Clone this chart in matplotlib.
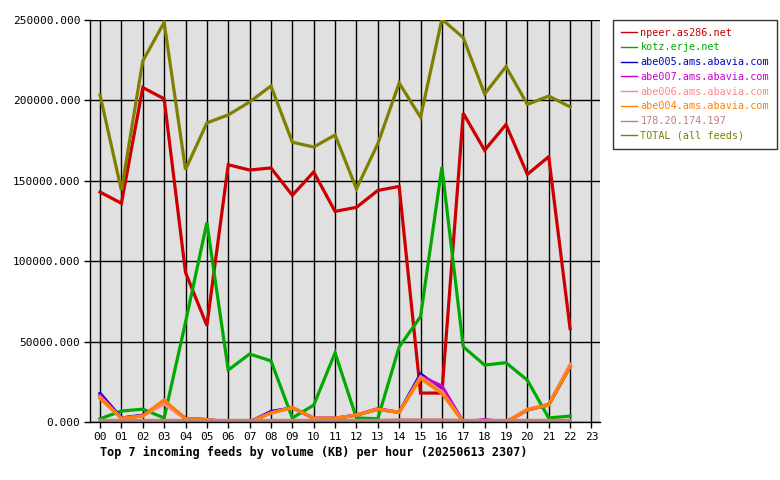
import matplotlib
matplotlib.use('Agg')
import matplotlib.pyplot as plt

hours = list(range(23))
tick_labels = ['%02d' % h for h in range(24)]

npeer = [143000, 136000, 208000, 201000, 93000, 60000, 160000, 156700, 158000, 141000,
         155500, 131000, 133500, 144000, 146500, 18000, 18000, 192000, 169000, 185000,
         154000, 165000, 58000]
kotz = [2000, 6800, 8000, 2500, 62000, 124000, 32300, 42300, 38000, 2500,
        10500, 43000, 2500, 2000, 46700, 65500, 158500, 46800, 35400, 36900,
        26000, 2500, 3700]
abe005 = [17800, 2500, 4200, 12500, 2200, 1500, 0, 0, 6500, 8800,
          2300, 2300, 4300, 7900, 6000, 29800, 20500, 0, 0, 0,
          7500, 10600, 34400]
abe007 = [16500, 2300, 4000, 12800, 2000, 1500, 0, 0, 5800, 9000,
          2300, 2300, 4300, 8300, 6000, 28500, 22400, 0, 1500, 0,
          7500, 11000, 34800]
abe006 = [15500, 2200, 3800, 11200, 2000, 1500, 0, 0, 5600, 8800,
          2300, 2300, 4300, 7900, 6000, 28000, 19000, 0, 0, 0,
          8000, 10600, 36000]
abe004 = [14700, 2200, 3700, 13700, 1900, 1500, 0, 0, 5600, 9100,
          2300, 2300, 4300, 7900, 6000, 27100, 17800, 0, 0, 0,
          7500, 10600, 34400]
ip178 = [1000, 1000, 1000, 1000, 1000, 1000, 1000, 1000, 1000, 1000,
         1000, 1000, 1000, 1000, 1300, 1300, 1300, 1000, 1000, 1000,
         1000, 1000, 1000]
total = [203400, 144000, 224500, 248500, 157000, 186000, 191000, 199000, 209000, 174000,
         171000, 178500, 145000, 173000, 210800, 189500, 250500, 239000, 204000, 221000,
         197500, 202700, 196000]

names = ['npeer.as286.net', 'kotz.erje.net', 'abe005.ams.abavia.com', 'abe007.ams.abavia.com',
         'abe006.ams.abavia.com', 'abe004.ams.abavia.com', '178.20.174.197', 'TOTAL (all feeds)']
series = [npeer, kotz, abe005, abe007, abe006, abe004, ip178, total]
colors = ['#cc0000', '#00aa00', '#0000cc', '#cc00cc', '#ff8888', '#ff8000', '#c08080', '#808000']

mono = 'DejaVu Sans Mono'
fig = plt.figure(figsize=(7.8, 4.8), dpi=100)
ax = fig.add_axes([90/780, 58/480, 510/780, 402/480])
ax.set_facecolor('#e0e0e0')

for vals, name, c in zip(series, names, colors):
    ax.plot(hours, vals, color=c, lw=2.3, label=name, solid_joinstyle='miter')

ax.set_xlim(-0.47, 23.4)
ax.set_ylim(0, 250000)
ax.set_xticks(range(24))
ax.set_xticklabels(tick_labels, fontfamily=mono, fontsize=8)
yt = [0, 50000, 100000, 150000, 200000, 250000]
ax.set_yticks(yt)
ax.set_yticklabels(['%.3f' % v for v in yt], fontfamily=mono, fontsize=8)
ax.grid(True, color='black', lw=1)
ax.set_axisbelow(True)
for s in ['top', 'right']:
    ax.spines[s].set_visible(False)
ax.spines['left'].set_linewidth(1)
ax.spines['bottom'].set_linewidth(1)
ax.tick_params(length=4, width=1, pad=3)

ax.set_xlabel('Top 7 incoming feeds by volume (KB) per hour (20250613 2307)',
              fontfamily=mono, fontsize=8.45, fontweight='bold', loc='left', labelpad=6)
ax.xaxis.set_label_coords(0.02, -0.06)

leg = fig.legend(loc='upper left', bbox_to_anchor=(613/780, 1 - 20/480), prop={'family': mono, 'size': 7.3},
                 frameon=True, fancybox=False, edgecolor='black', handlelength=1.6, handletextpad=0.35,
                 labelspacing=0.47, borderpad=0.75, borderaxespad=0)
leg.get_frame().set_linewidth(1)
for line, text, c in zip(leg.get_lines(), leg.get_texts(), colors):
    line.set_linewidth(1)
    text.set_color(c)

fig.savefig('out.png', dpi=100)
